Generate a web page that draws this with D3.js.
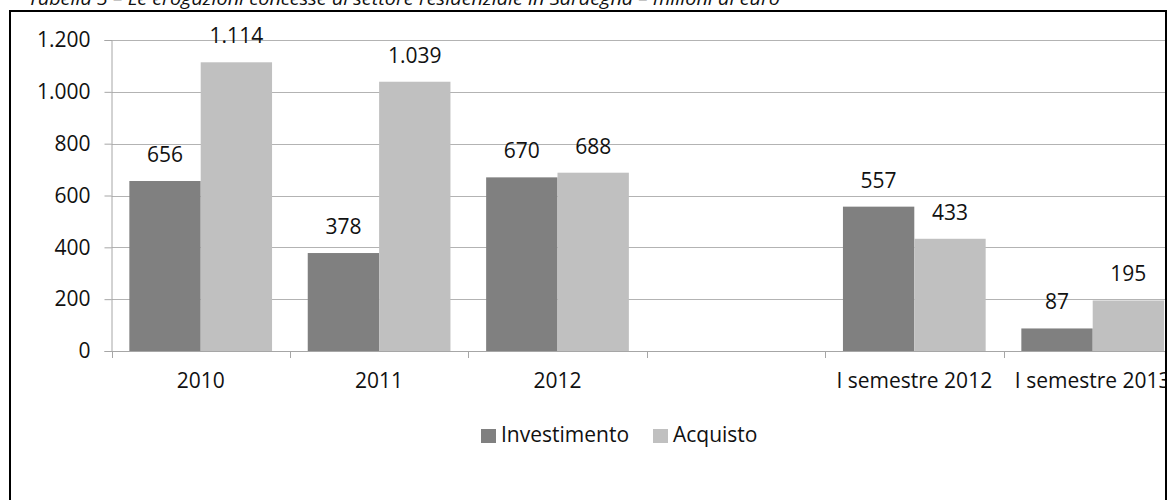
<!DOCTYPE html>
<html>
<head>
<meta charset="utf-8">
<script src="https://cdn.jsdelivr.net/npm/d3@7"></script>
<style>
  html, body { margin: 0; padding: 0; background: #fff; overflow: hidden; }
  svg { display: block; }
  text { font-family: "Open Sans", "Noto Sans", sans-serif; fill: #111; }
</style>
</head>
<body>
<svg id="chart" width="1168" height="500"></svg>
<script>
// ---- data ----
const title = "Tabella 3 – Le erogazioni concesse al settore residenziale in Sardegna – milioni di euro";
const categories = ["2010", "2011", "2012", "", "I semestre 2012", "I semestre 2013"];
const seriesNames = ["Investimento", "Acquisto"];
const investimento = [656, 378, 670, null, 557, 87];
const acquisto = [1114, 1039, 688, null, 433, 195];
const yTicks = [0, 200, 400, 600, 800, 1000, 1200];
const seriesColors = ["#808080", "#c0c0c0"];

const fmt = v => d3.format(",")(v).replace(/,/g, ".");

const svg = d3.select("#chart");
const W = 1168, H = 500;

// title (cut off at the top, as in the source)
svg.append("text")
  .attr("x", 28).attr("y", 5)
  .attr("font-size", 19)
  .attr("font-style", "italic")
  .attr("textLength", 752)
  .attr("lengthAdjust", "spacingAndGlyphs")
  .text(title);

// frame
const frameRight = 1166;
svg.append("rect")
  .attr("x", 10).attr("y", 11)
  .attr("width", frameRight - 10).attr("height", 600)
  .attr("fill", "none").attr("stroke", "#000").attr("stroke-width", 2);

// clip for plot content
svg.append("defs").append("clipPath").attr("id", "clip")
  .append("rect").attr("x", 0).attr("y", 0).attr("width", frameRight - 1).attr("height", H);

const plotLeft = 111.5, step = 178.4;
const x = d3.scaleBand().domain(categories)
  .range([plotLeft, plotLeft + step * categories.length]).paddingInner(0).paddingOuter(0);
const xs = d3.scaleBand().domain(seriesNames).range([0, x.bandwidth()]).paddingInner(0).paddingOuter(0.25);
const y = d3.scaleLinear().domain([0, 1200]).range([351, 40]);

const g = svg.append("g").attr("clip-path", "url(#clip)");

// gridlines
g.selectAll("line.grid").data(yTicks.filter(t => t > 0)).join("line")
  .attr("class", "grid")
  .attr("x1", plotLeft).attr("x2", W)
  .attr("y1", d => Math.round(y(d)) + 0.5).attr("y2", d => Math.round(y(d)) + 0.5)
  .attr("stroke", "#b3b3b3").attr("stroke-width", 1.2);

// y axis
const yAxis = d3.axisLeft(y).tickValues(yTicks).tickSize(7).tickPadding(14).tickFormat(fmt);
const yg = svg.append("g").attr("transform", `translate(${plotLeft},0)`).call(yAxis);
yg.select(".domain").attr("stroke", "#a6a6a6");
yg.selectAll(".tick line").attr("stroke", "#a6a6a6");
yg.selectAll(".tick text").attr("font-size", 21).attr("fill", "#111")
  .attr("font-family", "Open Sans, Noto Sans, sans-serif");

// bars
const seriesData = [investimento, acquisto];
seriesNames.forEach((s, si) => {
  const data = categories.map((c, i) => ({ c, v: seriesData[si][i] })).filter(d => d.v != null);
  g.selectAll("rect.s" + si).data(data).join("rect")
    .attr("class", "s" + si)
    .attr("x", d => x(d.c) + xs(s))
    .attr("width", xs.bandwidth())
    .attr("y", d => y(d.v))
    .attr("height", d => y(0) - y(d.v))
    .attr("fill", seriesColors[si]);
  g.selectAll("text.l" + si).data(data).join("text")
    .attr("class", "l" + si)
    .attr("x", d => x(d.c) + xs(s) + xs.bandwidth() / 2)
    .attr("y", d => y(d.v) - 19)
    .attr("text-anchor", "middle")
    .attr("font-size", 21)
    .text(d => fmt(d.v));
});

// x axis line & boundary ticks
g.append("line")
  .attr("x1", plotLeft).attr("x2", W)
  .attr("y1", y(0) + 0.5).attr("y2", y(0) + 0.5)
  .attr("stroke", "#a6a6a6");
const bounds = categories.map(c => x(c)).concat([x.range()[1]]);
g.selectAll("line.xt").data(bounds).join("line")
  .attr("class", "xt")
  .attr("x1", d => Math.round(d) + 0.5).attr("x2", d => Math.round(d) + 0.5)
  .attr("y1", y(0)).attr("y2", y(0) + 7)
  .attr("stroke", "#a6a6a6");
g.selectAll("text.xl").data(categories).join("text")
  .attr("class", "xl")
  .attr("x", d => x(d) + x.bandwidth() / 2)
  .attr("y", 388)
  .attr("text-anchor", "middle")
  .attr("font-size", 21)
  .text(d => d);

// legend
const legendItems = [{ name: seriesNames[0], x: 481, color: seriesColors[0] },
                     { name: seriesNames[1], x: 653, color: seriesColors[1] }];
const lg = svg.append("g");
legendItems.forEach(it => {
  lg.append("rect").attr("x", it.x).attr("y", 429).attr("width", 15).attr("height", 14).attr("fill", it.color);
  lg.append("text").attr("x", it.x + 20).attr("y", 442).attr("font-size", 21).text(it.name);
});
</script>
</body>
</html>
